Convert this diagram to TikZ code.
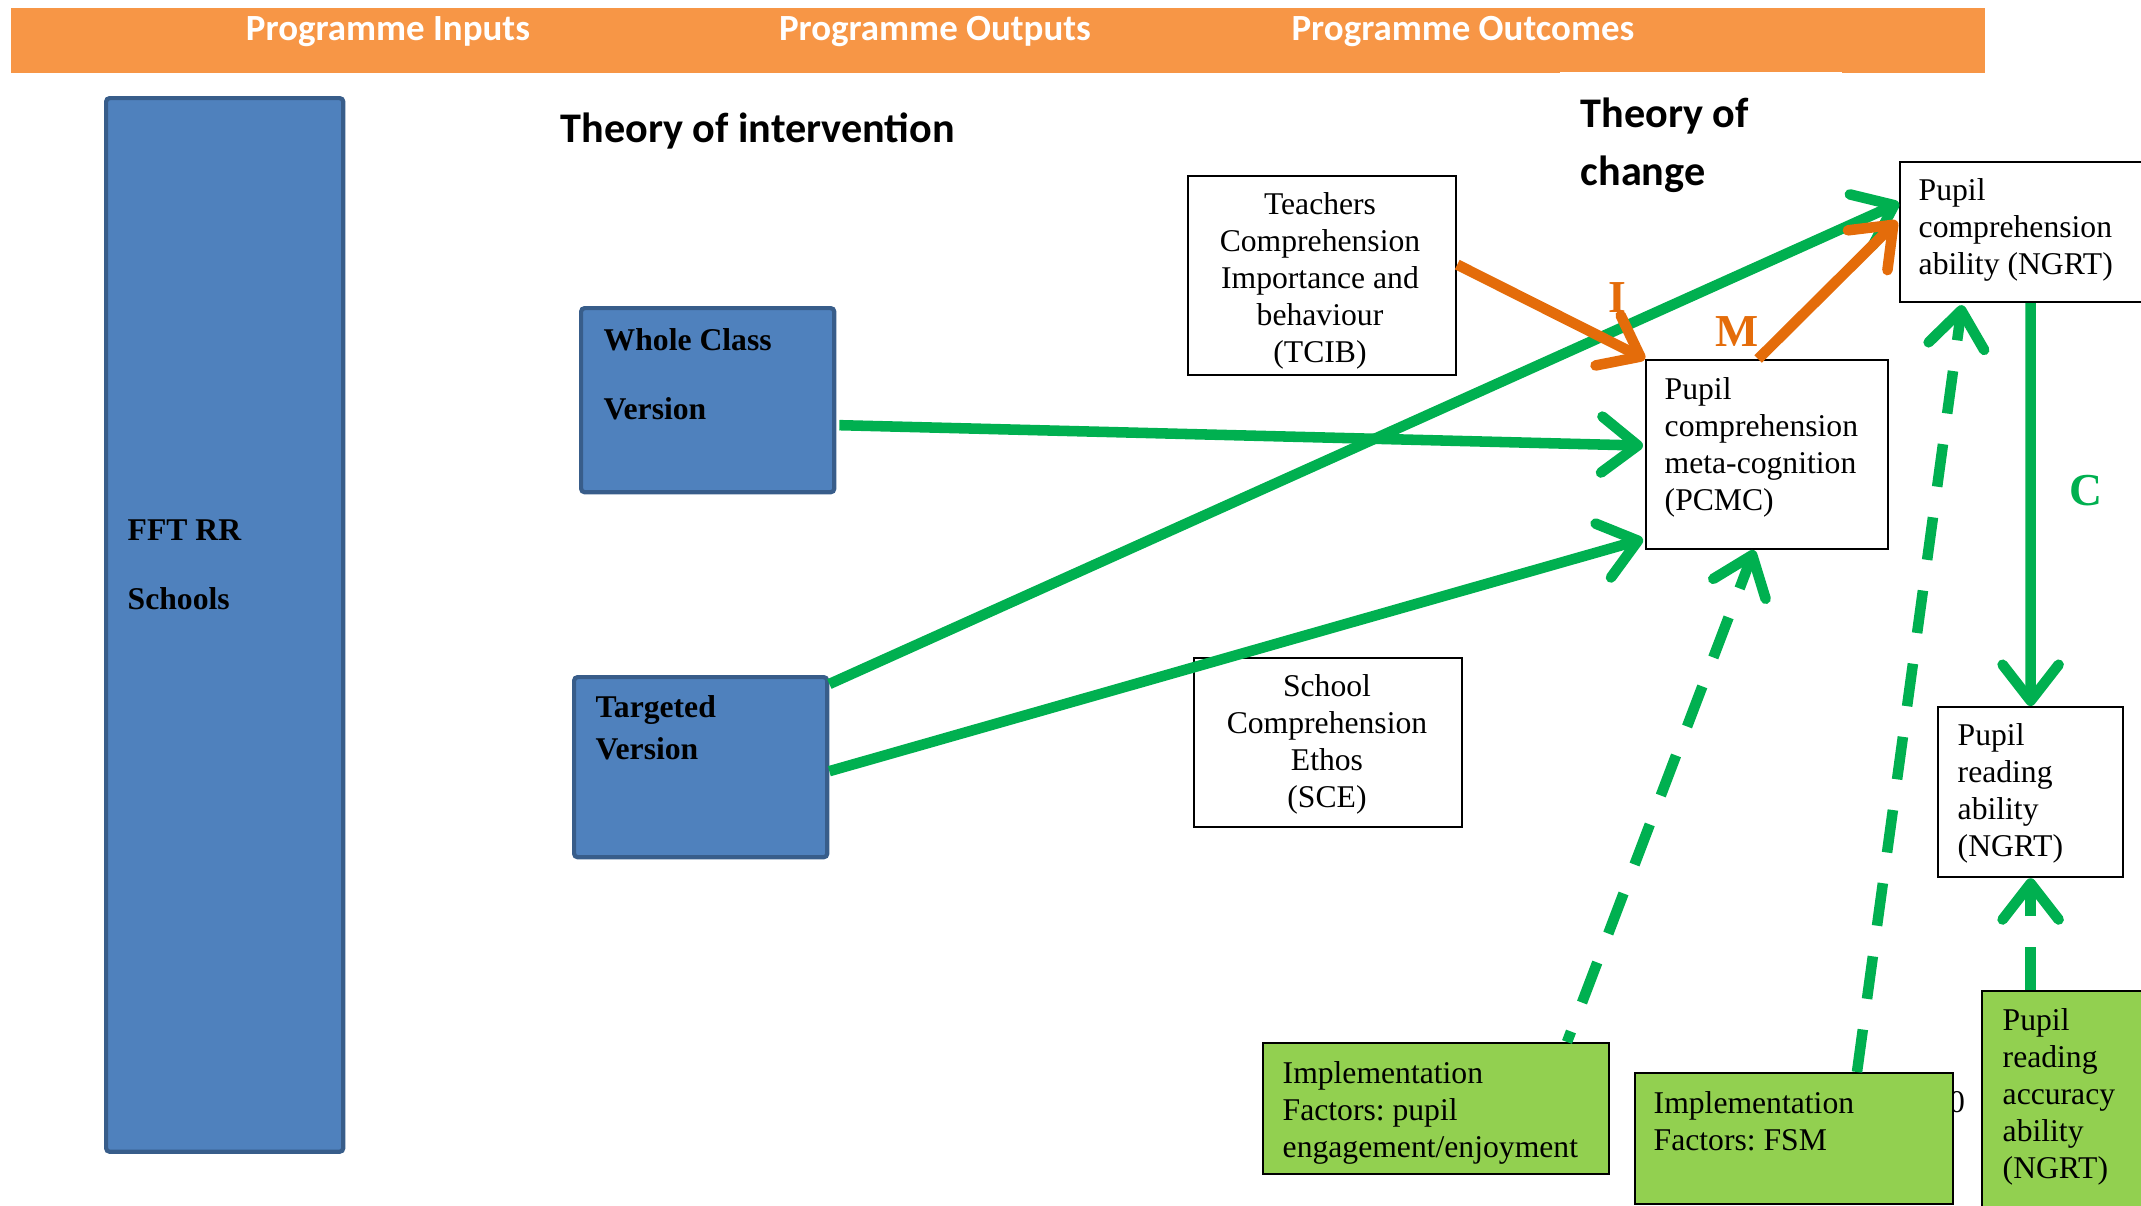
\documentclass[tikz,border=0pt]{standalone}
\usepackage{fontspec}
\setmainfont{Liberation Serif}
\newfontfamily\hdrfont{Carlito}
\usetikzlibrary{arrows.meta,calc}
\frenchspacing

\definecolor{hdrorange}{HTML}{F79646}
\definecolor{boxblue}{HTML}{4F81BD}
\definecolor{boxblueline}{HTML}{385D8A}
\definecolor{linkgreen}{HTML}{00B050}
\definecolor{linkorange}{HTML}{E46C0A}
\definecolor{factorgreen}{HTML}{92D050}

\tikzset{
  tbox/.style={draw=black, line width=0.6pt, fill=white, inner sep=0pt, anchor=north west},
  bbox/.style={draw=boxblueline, line width=1.2pt, fill=boxblue, rounded corners=1pt, inner sep=0pt, anchor=north west},
  gbox/.style={draw=black, line width=0.6pt, fill=factorgreen, inner sep=0pt, anchor=north west},
  txt/.style={inner sep=0pt, font=\fontsize{9}{10.5}\selectfont, align=left, anchor=west},
  ctxt/.style={inner sep=0pt, font=\fontsize{9}{10.5}\selectfont, align=center},
  btxt/.style={inner sep=0pt, font=\fontsize{9}{10.5}\selectfont\bfseries, align=left, anchor=west},
  hdrtxt/.style={inner sep=0pt, text=white, font=\hdrfont\bfseries\fontsize{10.5}{12}\selectfont},
  headline/.style={inner sep=0pt, font=\hdrfont\bfseries\fontsize{12}{14.5}\selectfont, align=left},
  letter/.style={inner sep=0pt, font=\fontsize{13}{15}\selectfont\bfseries},
  barb/.tip={Straight Barb[length=3.6mm,width=5.6mm,round]},
  garrow/.style={draw=linkgreen, line width=3pt, -barb},
  oarrow/.style={draw=linkorange, line width=3pt, -barb},
  gdash/.style={garrow, dash pattern=on 12.2pt off 8.8pt},
}

\begin{document}
\begin{tikzpicture}[x=0.01cm, y=-0.01cm]
\useasboundingbox (0,0) rectangle (2141,1205);

% header band
\node[fill=hdrorange, minimum width=19.73cm, minimum height=0.65cm, inner sep=0pt, anchor=north west] (header) at (10,7) {};
\fill[white] (1560,71.5) rectangle (1842,74);
\node[hdrtxt] (hin)  at (388,32)  {Programme Inputs};
\node[hdrtxt] (hout) at (935,32)  {Programme Outputs};
\node[hdrtxt] (hoc)  at (1463,32) {Programme Outcomes};

% section titles
\node[headline, anchor=west] (toi) at (560,131) {Theory of intervention};
\node[headline, anchor=north west] (toc) at (1580,97) {Theory of\\[2pt]change};

% programme inputs / outputs
\node[bbox, minimum width=2.37cm, minimum height=10.53cm] (fft) at (104,96) {};
\node[btxt] (fftt) at (127,565) {FFT RR\\[9pt]Schools};

\node[bbox, minimum width=2.53cm, minimum height=1.84cm] (wc) at (579,306) {};
\node[btxt] (wct) at (603,374) {Whole Class\\[9pt]Version};

\node[bbox, minimum width=2.53cm, minimum height=1.80cm] (tv) at (572,675) {};
\node[btxt] (tvt) at (595,728) {Targeted\\[1.5pt]Version};

% outcome boxes
\node[tbox, minimum width=2.68cm, minimum height=1.99cm] (tcib) at (1187,175) {};
\node[ctxt] (tcibt) at (1320,281) {Teachers\\Comprehension\\Importance and\\behaviour\\(TCIB)};

\node[tbox, minimum width=2.42cm, minimum height=1.89cm] (pcmc) at (1645,359) {};
\node[txt] (pcmct) at (1664,447) {Pupil\\comprehension\\meta-cognition\\(PCMC)};

\node[tbox, minimum width=2.61cm, minimum height=1.40cm] (ngrtc) at (1899,161) {};
\node[txt] (ngrtct) at (1918,230) {Pupil\\comprehension\\ability (NGRT)};

\node[tbox, minimum width=1.85cm, minimum height=1.70cm] (ngrtr) at (1937,706) {};
\node[txt] (ngrtrt) at (1957,793) {Pupil\\reading\\ability\\(NGRT)};

\node[tbox, minimum width=2.68cm, minimum height=1.69cm] (sce) at (1193,657) {};
\node[ctxt] (scet) at (1327,744) {School\\Comprehension\\Ethos\\(SCE)};

% implementation factors
\node[ctxt] (zero) at (1957,1102) {0};
\node[gbox, minimum width=3.46cm, minimum height=1.31cm] (eng) at (1262,1042) {};
\node[txt] (engt) at (1282,1113) {Implementation\\Factors: pupil\\engagement/enjoyment};

\node[gbox, minimum width=3.18cm, minimum height=1.31cm] (fsm) at (1634,1072) {};
\node[txt] (fsmt) at (1653,1121) {Implementation\\Factors: FSM};

\node[gbox, minimum width=1.80cm, minimum height=2.30cm] (acc) at (1981,990) {};
\node[txt] (acct) at (2002,1097) {Pupil\\reading\\accuracy\\ability\\(NGRT)};

% green links
\draw[garrow] ($(wc.east)+(3,25)$) -- ($(pcmc.west)+(-2,-9)$);
\draw[garrow] ($(tv.north east)+(0,9)$) -- ($(ngrtc.north west)+(0,42)$);
\draw[garrow] ($(tv.east)+(0,4)$) -- ($(pcmc.south west)+(-2,-11)$);
\draw[garrow] (ngrtc.south) -- (ngrtr.north);

% dashed implementation links
\draw[gdash, dash phase=9pt] ($(eng.north west)+(305,0)$) -- ($(pcmc.south)+(-13,0)$);
\draw[gdash] ($(fsm.north west)+(223,0)$) -- ($(ngrtc.south west)+(63,2)$);
\draw[gdash] (ngrtr.south |- acc.north) -- (ngrtr.south);

% orange links
\draw[oarrow] ($(tcib.east)+(0,-11)$) -- (pcmc.north west);
\draw[oarrow] ($(pcmc.north)+(-9,0)$) -- ($(ngrtc.west)+(-2,-11)$);

% link letters
\node[letter, text=linkorange] (li) at (1617,298) {I};
\node[letter, text=linkorange] (lm) at (1737,332) {M};
\node[letter, text=linkgreen]  (lc) at (2086,491) {C};
\end{tikzpicture}
\end{document}
